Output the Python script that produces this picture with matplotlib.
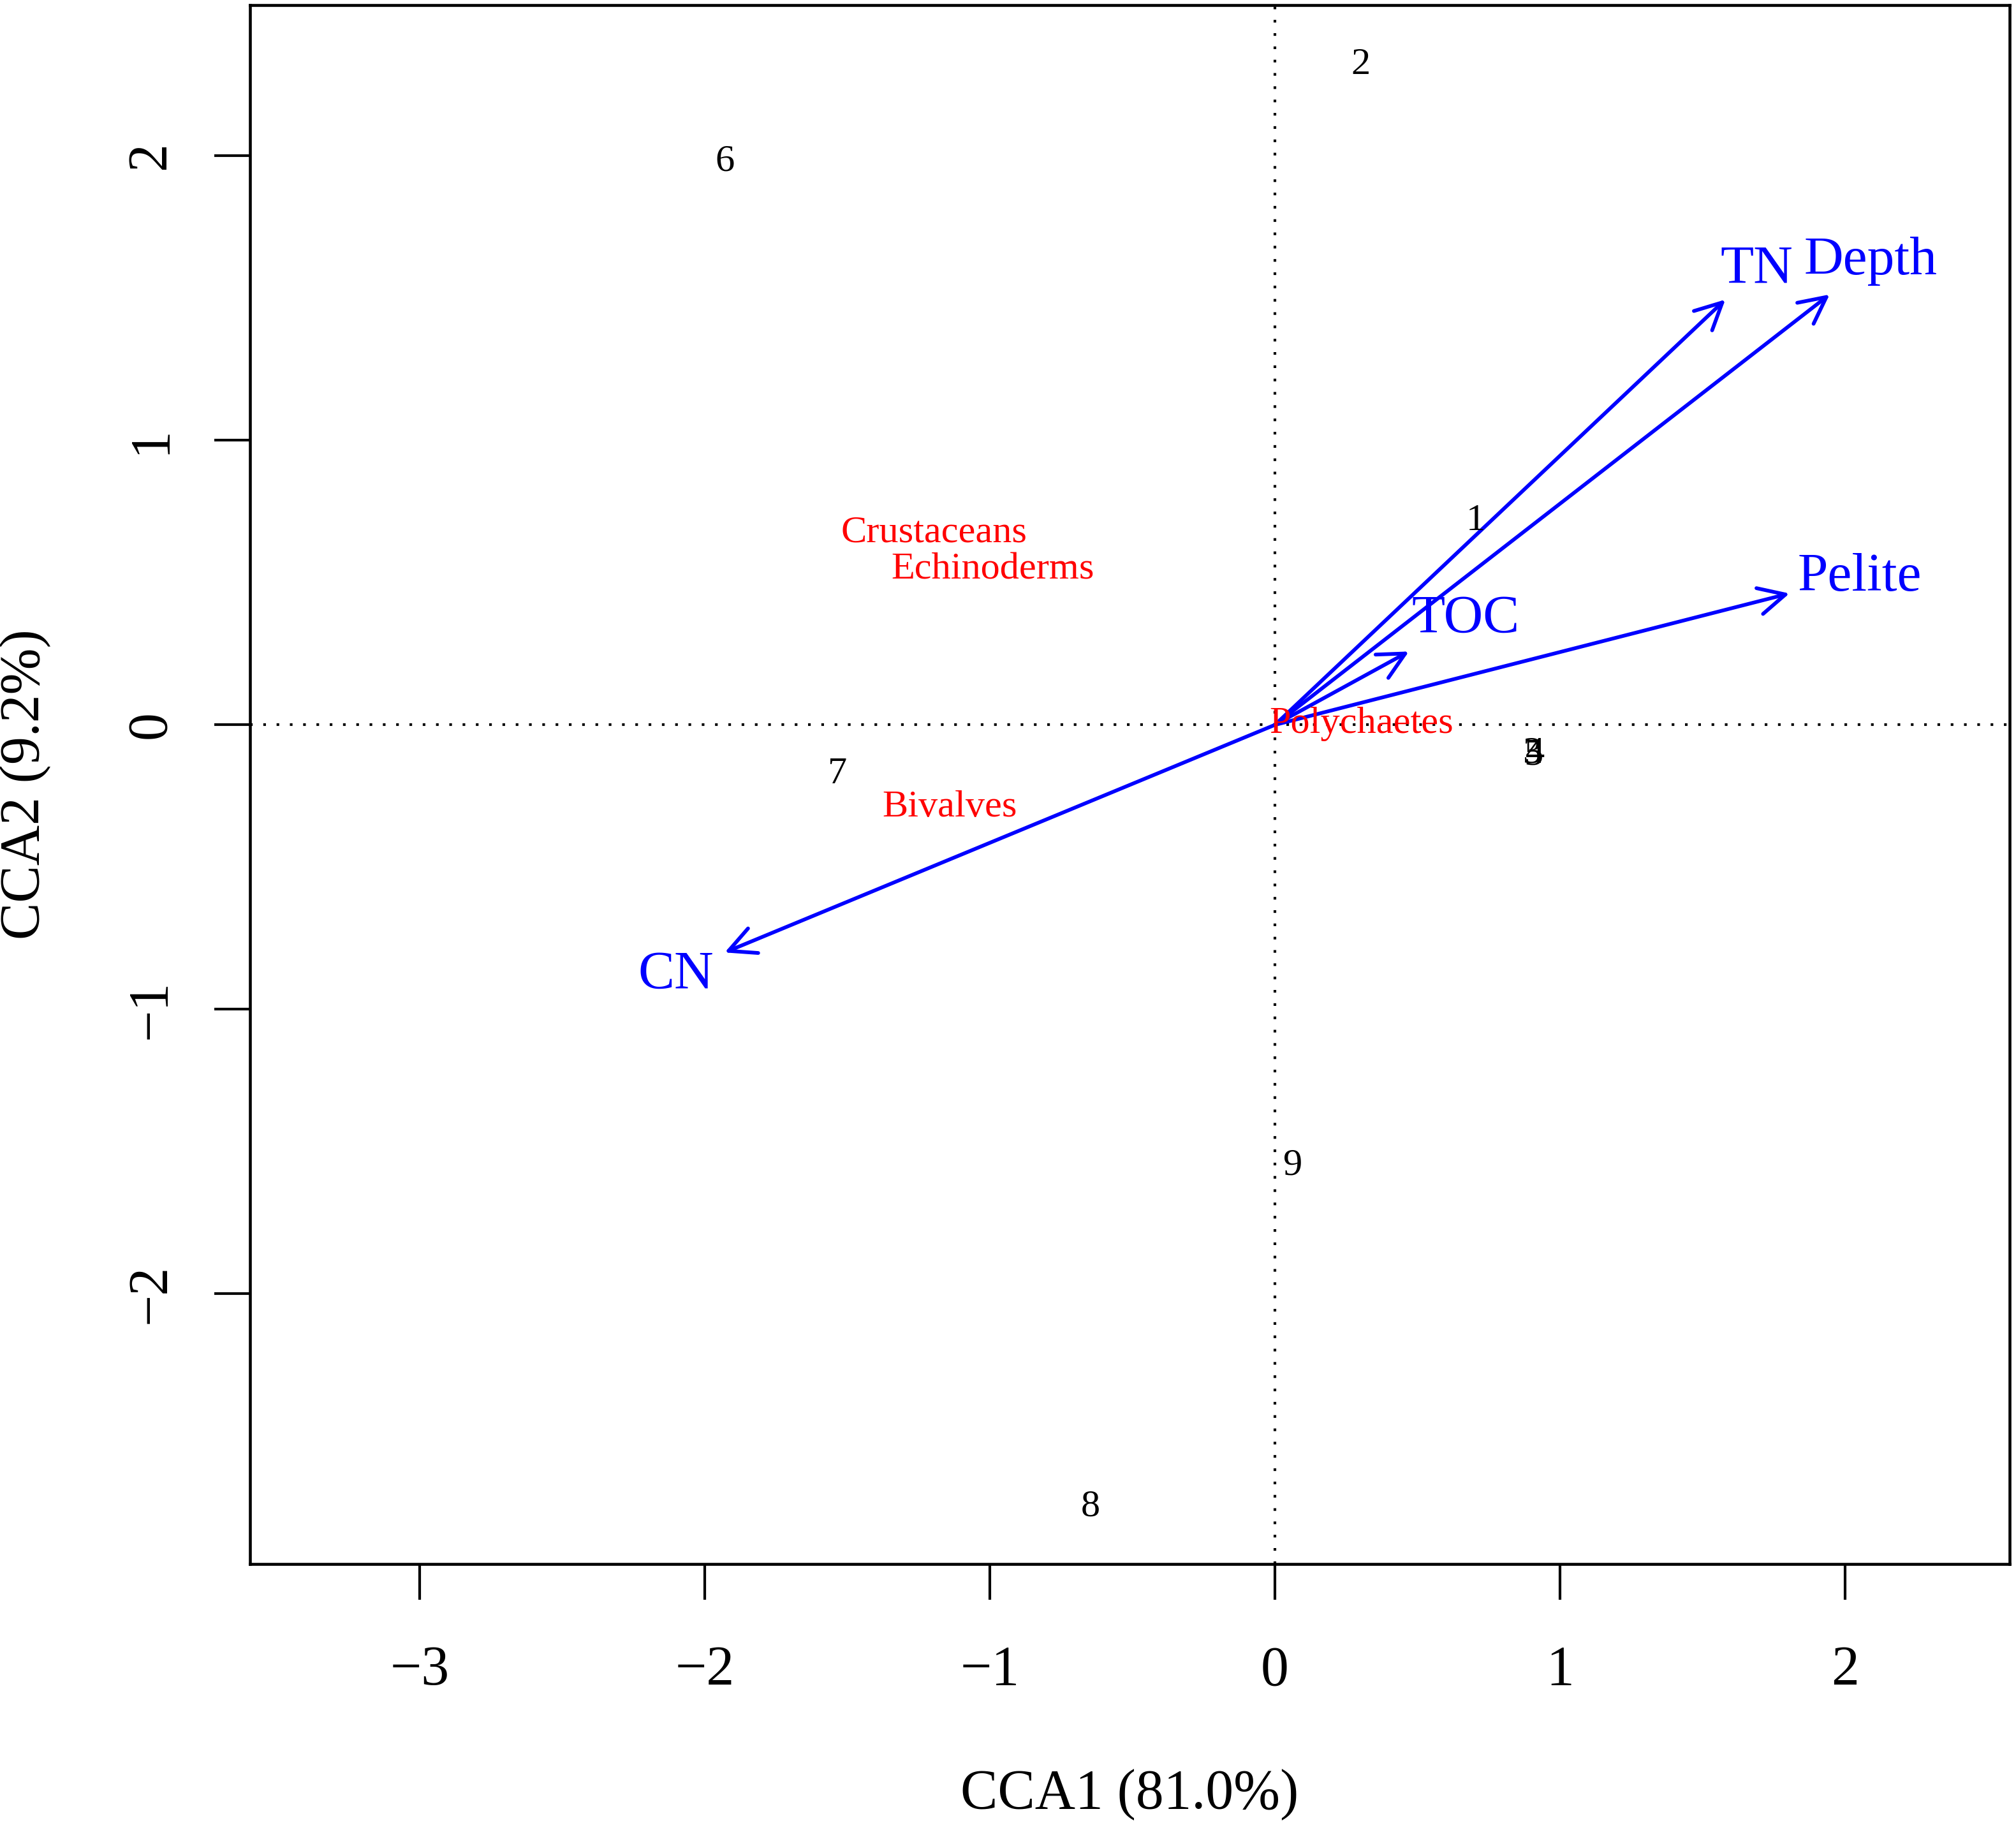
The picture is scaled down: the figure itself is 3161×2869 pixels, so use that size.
import matplotlib
matplotlib.use("Agg")
import matplotlib.pyplot as plt

# ---- data ----
site_labels = ["1", "2", "3", "4", "5", "6", "7", "8", "9"]
site_x = [0.705, 0.30, 0.905, 0.913, 0.908, -1.93, -1.535, -0.647, 0.063]
site_y = [0.717, 2.32, -0.100, -0.103, -0.108, 1.98, -0.175, -2.75, -1.55]

species = ["Crustaceans", "Echinoderms", "Bivalves", "Polychaetes"]
species_x = [-1.197, -0.99, -1.14, 0.304]
species_y = [0.675, 0.545, -0.29, 0.004]

env_vars = ["TN", "Depth", "Pelite", "TOC", "CN"]
env_x = [1.58, 1.946, 1.805, 0.470, -1.93]
env_y = [1.495, 1.513, 0.462, 0.258, -0.80]
env_label_x = [1.69, 2.09, 2.05, 0.67, -2.10]
env_label_y = [1.60, 1.63, 0.518, 0.37, -0.88]

xticks = [-3, -2, -1, 0, 1, 2]
yticks = [-2, -1, 0, 1, 2]
xlabel = "CCA1 (81.0%)"
ylabel = "CCA2 (9.2%)"

# ---- plot ----
plt.rcParams["font.family"] = ["Liberation Serif", "DejaVu Serif"]
fig = plt.figure(figsize=(3162 / 300, 2869 / 300), dpi=300)
ax = fig.add_axes([0.124, 0.1453, 0.9965 - 0.124, 0.9972 - 0.1453])

ax.set_xlim(-3.595, 2.577)
ax.set_ylim(-2.95, 2.53)

ax.axhline(0, color="black", lw=1.0, linestyle=(0, (1, 4)), zorder=1)
ax.axvline(0, color="black", lw=1.0, linestyle=(0, (1, 4)), zorder=1)

for lab, x, y in zip(site_labels, site_x, site_y):
    ax.text(x, y, lab, ha="center", va="center", fontsize=14.5, color="black", zorder=3)

for lab, x, y in zip(species, species_x, species_y):
    ax.text(x, y, lab, ha="center", va="center", fontsize=14.5, color="#FF0000", zorder=3)

for lab, x, y, lx, ly in zip(env_vars, env_x, env_y, env_label_x, env_label_y):
    ax.annotate("", xy=(x, y), xytext=(0, 0),
                arrowprops=dict(arrowstyle="->,head_length=0.5,head_width=0.25",
                                color="#0000FF", lw=1.4, shrinkA=0, shrinkB=0,
                                mutation_scale=20),
                zorder=2)
    ax.text(lx, ly, lab, ha="center", va="center", fontsize=20.5, color="#0000FF", zorder=3)

ax.set_xticks(xticks)
ax.set_yticks(yticks)
ax.set_xticklabels([str(t).replace("-", "\u2212") for t in xticks])
ax.set_yticklabels([str(t).replace("-", "\u2212") for t in yticks], rotation=90, va="center")
ax.tick_params(axis="both", direction="out", length=13.5, width=1.0, labelsize=21)
ax.tick_params(axis="x", pad=17)
ax.tick_params(axis="y", pad=14)
for s in ax.spines.values():
    s.set_linewidth(1.1)

fig.text((ax.get_position().x0 + ax.get_position().x1) / 2, 1 - 2814 / 2869, xlabel,
         ha="center", va="center", fontsize=21)
fig.text(40 / 3162, (ax.get_position().y0 + ax.get_position().y1) / 2, ylabel,
         ha="center", va="center", rotation=90, fontsize=21)

fig.savefig("out.png", dpi=300)
